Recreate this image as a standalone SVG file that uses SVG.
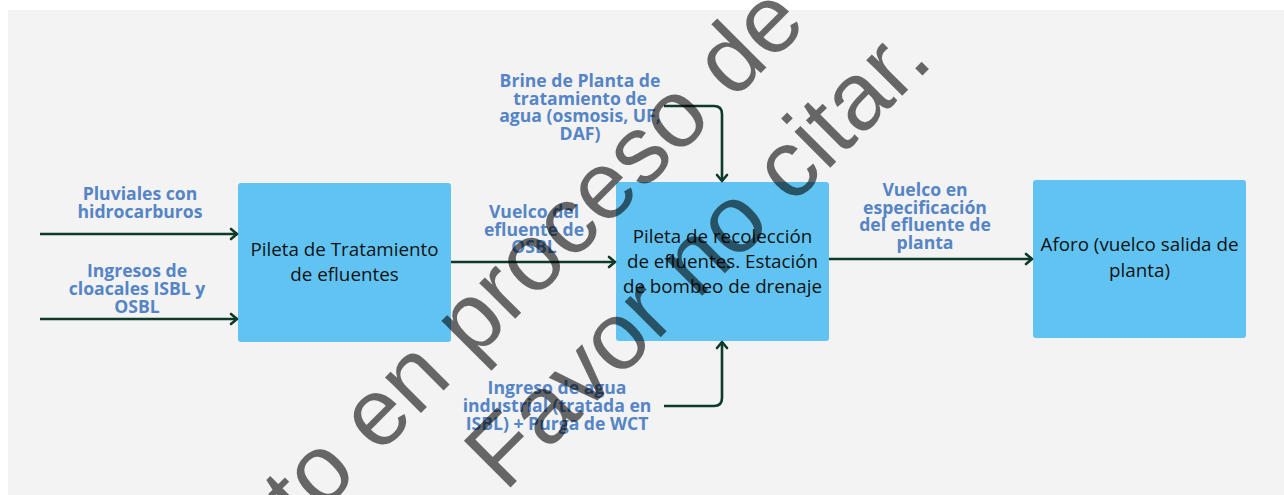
<svg xmlns="http://www.w3.org/2000/svg" width="1284" height="495" viewBox="0 0 1284 495">
  <defs>
    <style>
      .node rect { fill: #61c3f2; }
      .ntext { font-family: "Open Sans", "Liberation Sans", sans-serif; font-size: 18.8px; fill: #111111; text-anchor: middle; }
      .label { font-family: "Open Sans", "Liberation Sans", sans-serif; font-size: 17.6px; font-weight: 700; fill: #5585c5; text-anchor: middle; }
      .conn { fill: none; stroke: #0d3b28; stroke-width: 2.6; }
      .wm { font-family: "Liberation Sans", Arial, sans-serif; font-size: 96px; fill: #000000; fill-opacity: 0.58; }
    </style>
    <marker id="arr" markerUnits="userSpaceOnUse" viewBox="-9 -8 11 16" refX="0" refY="0" markerWidth="11" markerHeight="16" orient="auto">
      <path d="M-6,-5 L0,0 L-6,5" fill="none" stroke="#0d3b28" stroke-width="2.6" stroke-linecap="round" stroke-linejoin="round"/>
    </marker>
  </defs>

  <rect x="0" y="0" width="1284" height="495" fill="#ffffff"/>
  <rect x="8" y="10" width="1276" height="485" fill="#f3f3f3"/>

  <g id="node-pileta-tratamiento" class="node">
    <rect x="238" y="183" width="213" height="159" rx="3"/>
    <text class="ntext" x="344.5" y="256">Pileta de Tratamiento</text>
    <text class="ntext" x="344.5" y="281">de efluentes</text>
  </g>

  <g id="node-pileta-recoleccion" class="node">
    <rect x="616" y="182" width="213" height="159" rx="3"/>
    <text class="ntext" x="722.5" y="243">Pileta de recolección</text>
    <text class="ntext" x="722.5" y="268">de efluentes. Estación</text>
    <text class="ntext" x="722.5" y="293">de bombeo de drenaje</text>
  </g>

  <g id="node-aforo" class="node">
    <rect x="1033" y="180" width="213" height="158" rx="3"/>
    <text class="ntext" x="1139.5" y="251">Aforo (vuelco salida de</text>
    <text class="ntext" x="1139.5" y="277">planta)</text>
  </g>

  <g id="connectors">
    <path class="conn" d="M40,234 L237,234" marker-end="url(#arr)"/>
    <path class="conn" d="M40,319 L237,319" marker-end="url(#arr)"/>
    <path class="conn" d="M451,262 L615,262" marker-end="url(#arr)"/>
    <path class="conn" d="M664,106 L714,106 Q722,106 722,114 L722,181" marker-end="url(#arr)"/>
    <path class="conn" d="M664,406 L714,406 Q722,406 722,398 L722,342" marker-end="url(#arr)"/>
    <path class="conn" d="M829,259 L1032,259" marker-end="url(#arr)"/>
  </g>

  <g id="labels">
    <text class="label" x="140" y="200">Pluviales con</text>
    <text class="label" x="140" y="218">hidrocarburos</text>

    <text class="label" x="137" y="277">Ingresos de</text>
    <text class="label" x="137" y="295">cloacales ISBL y</text>
    <text class="label" x="137" y="313">OSBL</text>

    <text class="label" x="580" y="87">Brine de Planta de</text>
    <text class="label" x="580" y="104.5">tratamiento de</text>
    <text class="label" x="580" y="122">agua (osmosis, UF,</text>
    <text class="label" x="580" y="139.5">DAF)</text>

    <text class="label" x="534" y="218">Vuelco del</text>
    <text class="label" x="534" y="235.5">efluente de</text>
    <text class="label" x="534" y="253">OSBL</text>

    <text class="label" x="925" y="196">Vuelco en</text>
    <text class="label" x="925" y="213.5">especificación</text>
    <text class="label" x="925" y="231">del efluente de</text>
    <text class="label" x="925" y="248.5">planta</text>

    <text class="label" x="557" y="394">Ingreso de agua</text>
    <text class="label" x="557" y="412">industrial (tratada en</text>
    <text class="label" x="557" y="430">ISBL) + Purga de WCT</text>
  </g>

  <g id="watermark">
    <text class="wm" transform="translate(303,531) rotate(-45)">to en proceso de</text>
    <text class="wm" transform="translate(505,493) rotate(-45)">Favor no citar.</text>
  </g>
</svg>
